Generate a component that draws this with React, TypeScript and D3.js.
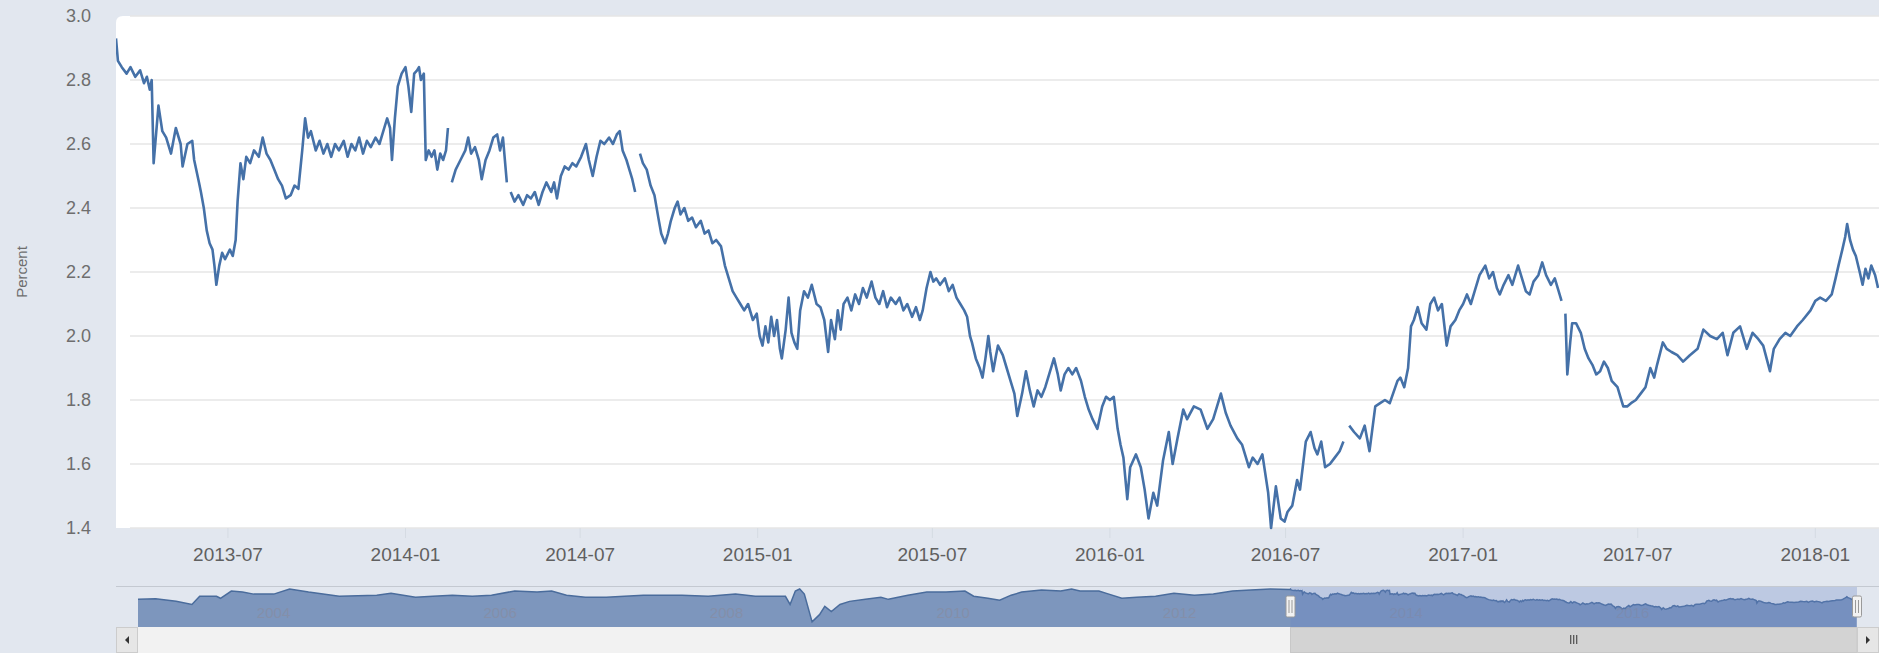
import React from 'react';
import * as d3 from 'd3';

// ---------- DATA ----------
const yTickValues = [1.4, 1.6, 1.8, 2.0, 2.2, 2.4, 2.6, 2.8, 3.0];
const xTickDates = ['2013-07-01', '2014-01-01', '2014-07-01', '2015-01-01', '2015-07-01', '2016-01-01', '2016-07-01', '2017-01-01', '2017-07-01', '2018-01-01'];
const navTickDates = ['2004-01-01', '2006-01-01', '2008-01-01', '2010-01-01', '2012-01-01', '2014-01-01', '2016-01-01'];
const viewRange = ['2013-03-07', '2018-03-08'];
const navRange = ['2003-01-02', '2018-03-08'];

const series2013: [string, number | null][] = [
  ['2013-03-07', 2.93], ['2013-03-09', 2.86], ['2013-03-13', 2.84], ['2013-03-18', 2.82], ['2013-03-22', 2.84],
  ['2013-03-27', 2.81], ['2013-04-01', 2.83], ['2013-04-05', 2.79], ['2013-04-08', 2.81], ['2013-04-11', 2.77],
  ['2013-04-13', 2.80], ['2013-04-15', 2.54], ['2013-04-20', 2.72], ['2013-04-24', 2.64], ['2013-04-28', 2.62],
  ['2013-05-03', 2.57], ['2013-05-08', 2.65], ['2013-05-13', 2.60], ['2013-05-15', 2.53], ['2013-05-20', 2.60],
  ['2013-05-25', 2.61], ['2013-05-27', 2.55], ['2013-06-01', 2.48], ['2013-06-03', 2.45], ['2013-06-06', 2.40],
  ['2013-06-09', 2.33], ['2013-06-12', 2.29], ['2013-06-15', 2.27], ['2013-06-17', 2.22], ['2013-06-19', 2.16],
  ['2013-06-22', 2.22], ['2013-06-25', 2.26], ['2013-06-28', 2.24], ['2013-07-03', 2.27], ['2013-07-06', 2.25],
  ['2013-07-09', 2.30], ['2013-07-11', 2.42], ['2013-07-14', 2.54], ['2013-07-17', 2.49], ['2013-07-20', 2.56],
  ['2013-07-24', 2.54], ['2013-07-28', 2.58], ['2013-08-02', 2.56], ['2013-08-06', 2.62], ['2013-08-10', 2.57],
  ['2013-08-14', 2.55], ['2013-08-18', 2.52], ['2013-08-22', 2.49], ['2013-08-26', 2.47], ['2013-08-30', 2.43],
  ['2013-09-04', 2.44], ['2013-09-08', 2.47], ['2013-09-12', 2.46], ['2013-09-16', 2.58], ['2013-09-19', 2.68],
  ['2013-09-22', 2.62], ['2013-09-25', 2.64], ['2013-09-30', 2.58], ['2013-10-04', 2.61], ['2013-10-08', 2.57],
  ['2013-10-12', 2.60], ['2013-10-16', 2.56], ['2013-10-20', 2.60], ['2013-10-24', 2.58], ['2013-10-29', 2.61],
  ['2013-11-02', 2.56], ['2013-11-06', 2.60], ['2013-11-10', 2.58], ['2013-11-14', 2.62], ['2013-11-18', 2.57],
  ['2013-11-22', 2.61], ['2013-11-26', 2.59], ['2013-12-01', 2.62], ['2013-12-05', 2.60], ['2013-12-09', 2.64],
  ['2013-12-13', 2.68], ['2013-12-16', 2.65], ['2013-12-18', 2.55], ['2013-12-21', 2.68], ['2013-12-24', 2.78],
  ['2013-12-28', 2.82],
];

const series2014: [string, number | null][] = [
  ['2014-01-01', 2.84], ['2014-01-04', 2.78], ['2014-01-07', 2.70], ['2014-01-10', 2.82], ['2014-01-13', 2.83],
  ['2014-01-15', 2.84], ['2014-01-17', 2.80], ['2014-01-20', 2.82], ['2014-01-22', 2.55], ['2014-01-25', 2.58],
  ['2014-01-28', 2.56], ['2014-01-31', 2.58], ['2014-02-03', 2.52], ['2014-02-06', 2.57], ['2014-02-09', 2.55],
  ['2014-02-12', 2.58], ['2014-02-14', 2.65], ['2014-02-16', null], ['2014-02-18', 2.48], ['2014-02-22', 2.52],
  ['2014-02-27', 2.55], ['2014-03-04', 2.58], ['2014-03-07', 2.62], ['2014-03-10', 2.57], ['2014-03-14', 2.59],
  ['2014-03-18', 2.55], ['2014-03-21', 2.49], ['2014-03-25', 2.55], ['2014-03-29', 2.58], ['2014-04-02', 2.62],
  ['2014-04-06', 2.63], ['2014-04-09', 2.58], ['2014-04-12', 2.62], ['2014-04-16', 2.48], ['2014-04-18', null],
  ['2014-04-20', 2.45], ['2014-04-24', 2.42], ['2014-04-28', 2.44], ['2014-05-03', 2.41], ['2014-05-07', 2.44],
  ['2014-05-11', 2.43], ['2014-05-15', 2.45], ['2014-05-19', 2.41], ['2014-05-23', 2.45], ['2014-05-27', 2.48],
  ['2014-06-01', 2.45], ['2014-06-04', 2.48], ['2014-06-07', 2.43], ['2014-06-11', 2.50], ['2014-06-15', 2.53],
  ['2014-06-19', 2.52], ['2014-06-23', 2.54], ['2014-06-27', 2.53], ['2014-07-02', 2.56], ['2014-07-07', 2.60],
  ['2014-07-10', 2.55], ['2014-07-14', 2.50], ['2014-07-18', 2.56], ['2014-07-22', 2.61], ['2014-07-26', 2.60],
  ['2014-07-31', 2.62], ['2014-08-04', 2.60], ['2014-08-08', 2.63], ['2014-08-11', 2.64], ['2014-08-14', 2.58],
  ['2014-08-18', 2.55], ['2014-08-21', 2.52], ['2014-08-24', 2.49], ['2014-08-27', 2.45], ['2014-08-29', null],
  ['2014-09-01', 2.57], ['2014-09-04', 2.54], ['2014-09-08', 2.52], ['2014-09-12', 2.47], ['2014-09-16', 2.44],
  ['2014-09-20', 2.37], ['2014-09-23', 2.32], ['2014-09-27', 2.29], ['2014-09-30', 2.32], ['2014-10-03', 2.36],
  ['2014-10-07', 2.40], ['2014-10-10', 2.42], ['2014-10-13', 2.38], ['2014-10-17', 2.40], ['2014-10-21', 2.36],
  ['2014-10-25', 2.37], ['2014-10-29', 2.34], ['2014-11-03', 2.36], ['2014-11-07', 2.32], ['2014-11-11', 2.33],
  ['2014-11-15', 2.29], ['2014-11-19', 2.30], ['2014-11-24', 2.28], ['2014-11-28', 2.22], ['2014-12-02', 2.18],
  ['2014-12-06', 2.14], ['2014-12-10', 2.12], ['2014-12-14', 2.10], ['2014-12-18', 2.08], ['2014-12-22', 2.10],
  ['2014-12-27', 2.05], ['2014-12-31', 2.07],
];

const series2015: [string, number | null][] = [
  ['2015-01-03', 2.00], ['2015-01-06', 1.97], ['2015-01-09', 2.03], ['2015-01-12', 1.98], ['2015-01-15', 2.06],
  ['2015-01-18', 2.00], ['2015-01-21', 2.05], ['2015-01-24', 1.96], ['2015-01-26', 1.93], ['2015-01-30', 2.02],
  ['2015-02-02', 2.12], ['2015-02-05', 2.01], ['2015-02-08', 1.98], ['2015-02-11', 1.96], ['2015-02-14', 2.08],
  ['2015-02-18', 2.14], ['2015-02-22', 2.12], ['2015-02-26', 2.16], ['2015-03-03', 2.10], ['2015-03-07', 2.09],
  ['2015-03-11', 2.05], ['2015-03-15', 1.95], ['2015-03-18', 2.05], ['2015-03-22', 1.99], ['2015-03-25', 2.08],
  ['2015-03-28', 2.02], ['2015-03-31', 2.10], ['2015-04-04', 2.12], ['2015-04-08', 2.08], ['2015-04-12', 2.13],
  ['2015-04-16', 2.10], ['2015-04-20', 2.15], ['2015-04-24', 2.12], ['2015-04-29', 2.17], ['2015-05-03', 2.12],
  ['2015-05-07', 2.10], ['2015-05-11', 2.14], ['2015-05-15', 2.09], ['2015-05-19', 2.12], ['2015-05-24', 2.10],
  ['2015-05-28', 2.12], ['2015-06-01', 2.08], ['2015-06-05', 2.10], ['2015-06-10', 2.06], ['2015-06-14', 2.09],
  ['2015-06-18', 2.05], ['2015-06-21', 2.08], ['2015-06-25', 2.15], ['2015-06-29', 2.20], ['2015-07-02', 2.17],
  ['2015-07-05', 2.18], ['2015-07-09', 2.16], ['2015-07-14', 2.18], ['2015-07-18', 2.14], ['2015-07-22', 2.16],
  ['2015-07-26', 2.12], ['2015-07-30', 2.10], ['2015-08-03', 2.08], ['2015-08-06', 2.06], ['2015-08-09', 2.00],
  ['2015-08-11', 1.98], ['2015-08-15', 1.93], ['2015-08-19', 1.90], ['2015-08-22', 1.87], ['2015-08-25', 1.93],
  ['2015-08-28', 2.00], ['2015-08-30', 1.95], ['2015-09-02', 1.89], ['2015-09-05', 1.94], ['2015-09-07', 1.97],
  ['2015-09-12', 1.94], ['2015-09-16', 1.90], ['2015-09-20', 1.86], ['2015-09-24', 1.82], ['2015-09-27', 1.75],
  ['2015-10-02', 1.82], ['2015-10-06', 1.89], ['2015-10-10', 1.83], ['2015-10-14', 1.78], ['2015-10-18', 1.83],
  ['2015-10-22', 1.81], ['2015-10-26', 1.84], ['2015-10-30', 1.88], ['2015-11-04', 1.93], ['2015-11-08', 1.88],
  ['2015-11-11', 1.83], ['2015-11-15', 1.88], ['2015-11-19', 1.90], ['2015-11-23', 1.88], ['2015-11-27', 1.90],
  ['2015-12-02', 1.86], ['2015-12-06', 1.81], ['2015-12-10', 1.77], ['2015-12-14', 1.74], ['2015-12-19', 1.71],
  ['2015-12-24', 1.78], ['2015-12-28', 1.81],
];

const series2016: [string, number | null][] = [
  ['2016-01-01', 1.80], ['2016-01-05', 1.81], ['2016-01-09', 1.71], ['2016-01-12', 1.66], ['2016-01-15', 1.62],
  ['2016-01-19', 1.49], ['2016-01-22', 1.59], ['2016-01-28', 1.63], ['2016-02-02', 1.59], ['2016-02-06', 1.52],
  ['2016-02-10', 1.43], ['2016-02-15', 1.51], ['2016-02-19', 1.47], ['2016-02-22', 1.54], ['2016-02-25', 1.61],
  ['2016-03-02', 1.70], ['2016-03-06', 1.60], ['2016-03-11', 1.68], ['2016-03-17', 1.77], ['2016-03-21', 1.74],
  ['2016-03-28', 1.78], ['2016-04-04', 1.77], ['2016-04-11', 1.71], ['2016-04-17', 1.74], ['2016-04-25', 1.82],
  ['2016-04-30', 1.76], ['2016-05-05', 1.72], ['2016-05-12', 1.68], ['2016-05-17', 1.66], ['2016-05-24', 1.59],
  ['2016-05-28', 1.62], ['2016-06-02', 1.60], ['2016-06-07', 1.63], ['2016-06-13', 1.51], ['2016-06-16', 1.40],
  ['2016-06-21', 1.53], ['2016-06-26', 1.43], ['2016-06-30', 1.42], ['2016-07-03', 1.45], ['2016-07-08', 1.47],
  ['2016-07-13', 1.55], ['2016-07-16', 1.52], ['2016-07-22', 1.67], ['2016-07-27', 1.70], ['2016-07-31', 1.65],
  ['2016-08-03', 1.63], ['2016-08-07', 1.67], ['2016-08-11', 1.59], ['2016-08-16', 1.60], ['2016-08-21', 1.62],
  ['2016-08-26', 1.64], ['2016-08-30', 1.67], ['2016-09-02', null], ['2016-09-05', 1.72], ['2016-09-10', 1.70],
  ['2016-09-16', 1.68], ['2016-09-21', 1.72], ['2016-09-26', 1.64], ['2016-10-02', 1.78], ['2016-10-07', 1.79],
  ['2016-10-12', 1.80], ['2016-10-17', 1.79], ['2016-10-25', 1.86], ['2016-10-28', 1.87], ['2016-11-01', 1.84],
  ['2016-11-05', 1.90], ['2016-11-08', 2.03], ['2016-11-11', 2.05], ['2016-11-15', 2.09], ['2016-11-19', 2.04],
  ['2016-11-24', 2.02], ['2016-11-28', 2.10], ['2016-12-02', 2.12], ['2016-12-06', 2.08], ['2016-12-10', 2.10],
  ['2016-12-15', 1.97], ['2016-12-19', 2.03], ['2016-12-24', 2.05], ['2016-12-28', 2.08],
];

const series2017: [string, number | null][] = [
  ['2017-01-01', 2.10], ['2017-01-05', 2.13], ['2017-01-09', 2.10], ['2017-01-13', 2.14], ['2017-01-18', 2.19],
  ['2017-01-24', 2.22], ['2017-01-28', 2.18], ['2017-02-01', 2.20], ['2017-02-05', 2.15], ['2017-02-08', 2.13],
  ['2017-02-12', 2.16], ['2017-02-17', 2.19], ['2017-02-21', 2.16], ['2017-02-27', 2.22], ['2017-03-03', 2.18],
  ['2017-03-07', 2.14], ['2017-03-11', 2.13], ['2017-03-15', 2.17], ['2017-03-20', 2.19], ['2017-03-24', 2.23],
  ['2017-03-28', 2.19], ['2017-04-02', 2.16], ['2017-04-06', 2.18], ['2017-04-10', 2.14], ['2017-04-13', 2.11],
  ['2017-04-15', null], ['2017-04-17', 2.07], ['2017-04-19', 1.88], ['2017-04-22', 1.98], ['2017-04-24', 2.04],
  ['2017-04-28', 2.04], ['2017-05-03', 2.01], ['2017-05-07', 1.96], ['2017-05-11', 1.93], ['2017-05-15', 1.91],
  ['2017-05-19', 1.88], ['2017-05-23', 1.89], ['2017-05-27', 1.92], ['2017-05-31', 1.90], ['2017-06-04', 1.86],
  ['2017-06-10', 1.84], ['2017-06-13', 1.81], ['2017-06-16', 1.78], ['2017-06-20', 1.78], ['2017-06-24', 1.79],
  ['2017-06-29', 1.80], ['2017-07-04', 1.82], ['2017-07-09', 1.84], ['2017-07-14', 1.90], ['2017-07-18', 1.87],
  ['2017-07-21', 1.91], ['2017-07-27', 1.98], ['2017-07-31', 1.96], ['2017-08-05', 1.95], ['2017-08-11', 1.94],
  ['2017-08-17', 1.92], ['2017-08-24', 1.94], ['2017-09-01', 1.96], ['2017-09-07', 2.02], ['2017-09-14', 2.00],
  ['2017-09-21', 1.99], ['2017-09-27', 2.01], ['2017-10-02', 1.94], ['2017-10-08', 2.01], ['2017-10-15', 2.03],
  ['2017-10-22', 1.96], ['2017-10-28', 2.01], ['2017-11-03', 1.99], ['2017-11-08', 1.97], ['2017-11-15', 1.89],
  ['2017-11-19', 1.96], ['2017-11-25', 1.99], ['2017-12-01', 2.01], ['2017-12-06', 2.00], ['2017-12-13', 2.03],
  ['2017-12-19', 2.05], ['2017-12-27', 2.08],
];

const series2018: [string, number | null][] = [
  ['2018-01-01', 2.11], ['2018-01-06', 2.12], ['2018-01-12', 2.11], ['2018-01-18', 2.13], ['2018-01-22', 2.18],
  ['2018-01-25', 2.22], ['2018-01-29', 2.27], ['2018-02-01', 2.31], ['2018-02-03', 2.35], ['2018-02-06', 2.30],
  ['2018-02-09', 2.27], ['2018-02-12', 2.25], ['2018-02-16', 2.20], ['2018-02-19', 2.16], ['2018-02-22', 2.21],
  ['2018-02-25', 2.18], ['2018-02-28', 2.22], ['2018-03-04', 2.19], ['2018-03-07', 2.15],
];

// earlier history, only visible in the navigator
const navHistory: [string, number][] = [
  ['2003-01-02', 2.16], ['2003-02-28', 2.20], ['2003-05-05', 2.01], ['2003-06-25', 1.78], ['2003-07-20', 2.39],
  ['2003-09-12', 2.39], ['2003-09-25', 2.24], ['2003-10-30', 2.78], ['2003-12-05', 2.70], ['2004-01-10', 2.55],
  ['2004-03-15', 2.55], ['2004-05-05', 2.93], ['2004-07-05', 2.70], ['2004-10-12', 2.39], ['2005-02-10', 2.47],
  ['2005-03-28', 2.62], ['2005-06-15', 2.32], ['2005-08-10', 2.39], ['2005-10-12', 2.47], ['2005-12-15', 2.39],
  ['2006-02-15', 2.47], ['2006-05-01', 2.78], ['2006-07-12', 2.70], ['2006-08-28', 2.78], ['2006-10-15', 2.47],
  ['2006-12-15', 2.32], ['2007-02-20', 2.32], ['2007-04-20', 2.39], ['2007-06-20', 2.47], ['2007-08-22', 2.47],
  ['2007-10-22', 2.47], ['2008-01-15', 2.39], ['2008-04-12', 2.55], ['2008-06-15', 2.39], ['2008-09-20', 2.39],
  ['2008-10-05', 1.78], ['2008-10-22', 2.78], ['2008-11-05', 2.93], ['2008-11-20', 2.55], ['2008-12-15', 0.48],
  ['2009-01-08', 1.02], ['2009-01-25', 1.63], ['2009-02-15', 1.25], ['2009-03-15', 1.78], ['2009-04-15', 2.01],
  ['2009-06-05', 2.16], ['2009-07-25', 2.32], ['2009-08-18', 2.16], ['2009-10-20', 2.47], ['2009-12-20', 2.70],
  ['2010-02-20', 2.70], ['2010-04-22', 2.78], ['2010-05-20', 2.39], ['2010-07-05', 2.24], ['2010-08-12', 2.09],
  ['2010-09-18', 2.47], ['2010-10-22', 2.70], ['2010-12-25', 2.85], ['2011-02-25', 2.78], ['2011-04-01', 2.93],
  ['2011-04-28', 2.78], ['2011-06-28', 2.78], ['2011-07-30', 2.55], ['2011-09-10', 2.24], ['2011-10-28', 2.32],
  ['2011-12-28', 2.39], ['2012-02-25', 2.62], ['2012-05-01', 2.47], ['2012-07-01', 2.55], ['2012-09-01', 2.78],
  ['2012-10-30', 2.85], ['2013-01-01', 2.93], ['2013-03-05', 2.90],
];

const yAxisTitle = 'Percent';

// ---------- COMPONENT ----------
type Pt = { t: Date; v: number | null };
const parse = d3.utcParse('%Y-%m-%d');
const toPts = (arr: [string, number | null][]): Pt[] => arr.map(([d, v]) => ({ t: parse(d) as Date, v }));

export default function App() {
  const W = 1879, H = 653;
  const plot = { left: 116, top: 16, right: 1879, bottom: 528 };
  const nav = { left: 138, right: 1857, top: 587, bottom: 627 };
  const bg = '#e2e7ef';
  const lineColor = '#4571a8';
  const font = '"Liberation Sans", Arial, sans-serif';

  const main = toPts([...series2013, ...series2014, ...series2015, ...series2016, ...series2017, ...series2018]);
  // the navigator series is drawn without gaps
  const navPts = [...toPts(navHistory), ...main.filter((d) => d.v != null)];

  const x = d3.scaleUtc().domain(viewRange.map((d) => parse(d) as Date)).range([plot.left, plot.right]);
  const y = d3.scaleLinear().domain([1.4, 3.0]).range([plot.bottom, plot.top]);
  const nx = d3.scaleUtc().domain(navRange.map((d) => parse(d) as Date)).range([nav.left, nav.right]);
  const ny = d3.scaleLinear().domain([0.1, 3.08]).range([nav.bottom, nav.top]);

  const line = d3.line<Pt>().defined((d) => d.v != null).x((d) => x(d.t)).y((d) => y(d.v as number));
  const navLine = d3.line<Pt>().x((d) => nx(d.t)).y((d) => ny(d.v as number));
  const navArea = d3.area<Pt>().x((d) => nx(d.t)).y0(nav.bottom).y1((d) => ny(d.v as number));

  const fmt = d3.utcFormat('%Y-%m');
  const selL = nx(parse(viewRange[0]) as Date);
  const selR = nx(parse(viewRange[1]) as Date);
  const sbTop = 627, sbH = 26;

  const handle = (hx: number) => (
    <g>
      <rect x={hx - 4.5} y={596} width={9} height={21} rx={1.5} fill="#f2f2f2" stroke="#9a9a9a" strokeWidth={1} />
      <line x1={hx - 1.5} x2={hx - 1.5} y1={600} y2={613} stroke="#999" strokeWidth={1} />
      <line x1={hx + 1.5} x2={hx + 1.5} y1={600} y2={613} stroke="#999" strokeWidth={1} />
    </g>
  );

  return (
    <div style={{ position: 'absolute', left: 0, top: 0 }}>
      <svg width={W} height={H} style={{ display: 'block', fontFamily: font }}>
        <defs>
          <clipPath id="plotClip">
            <rect x={plot.left} y={plot.top - 2} width={plot.right - plot.left} height={plot.bottom - plot.top + 4} />
          </clipPath>
          <clipPath id="navClip">
            <rect x={nav.left} y={nav.top - 4} width={nav.right - nav.left} height={nav.bottom - nav.top + 4} />
          </clipPath>
        </defs>
        <rect x={0} y={0} width={W} height={H} fill={bg} />
        {/* plot background */}
        <path
          d={`M${plot.left},${plot.bottom} V${plot.top + 7} Q${plot.left},${plot.top} ${plot.left + 7},${plot.top} H${plot.right} V${plot.bottom} Z`}
          fill="#ffffff"
        />
        {/* grid */}
        {yTickValues.map((v) => (
          <line key={v} x1={plot.left + 14} x2={plot.right} y1={y(v)} y2={y(v)} stroke="#e6e6e6" strokeWidth={1.5} />
        ))}
        {/* y labels */}
        {yTickValues.map((v) => (
          <text key={'l' + v} x={91} y={y(v) + 6} textAnchor="end" fontSize={18} fill="#6e6e6e">
            {v.toFixed(1)}
          </text>
        ))}
        <text transform={`translate(27,${(plot.top + plot.bottom) / 2}) rotate(-90)`} textAnchor="middle" fontSize={15} fill="#6e6e6e">
          {yAxisTitle}
        </text>
        {/* x ticks and labels */}
        {xTickDates.map((d) => {
          const xx = x(parse(d) as Date);
          return (
            <g key={d}>
              <line x1={xx} x2={xx} y1={plot.bottom} y2={plot.bottom + 10} stroke="#d5dbe3" strokeWidth={1} />
              <text x={xx} y={561} textAnchor="middle" fontSize={19} fill="#606060">
                {fmt(parse(d) as Date)}
              </text>
            </g>
          );
        })}
        {/* main line */}
        <path d={line(main) || ''} fill="none" stroke={lineColor} strokeWidth={2.6} strokeLinejoin="round" clipPath="url(#plotClip)" />

        {/* navigator */}
        <line x1={plot.left} x2={plot.right} y1={nav.top - 0.5} y2={nav.top - 0.5} stroke="#c4c9d1" strokeWidth={1} />
        <g clipPath="url(#navClip)">
          <path d={navArea(navPts) || ''} fill="#7d96bd" />
          <path d={navLine(navPts) || ''} fill="none" stroke="#4a6c9c" strokeWidth={1.5} />
        </g>
        {navTickDates.map((d) => {
          const xx = nx(parse(d) as Date);
          return (
            <text key={'n' + d} x={xx + 6} y={618} fontSize={15} fill="#8a8a9a" opacity={0.55}>
              {d.slice(0, 4)}
            </text>
          );
        })}
        <rect x={selL} y={nav.top} width={selR - selL} height={nav.bottom - nav.top} fill="rgba(102,133,194,0.3)" />
        {handle(selL)}
        {handle(selR)}

        {/* scrollbar */}
        <rect x={plot.left} y={sbTop} width={plot.right - plot.left} height={sbH} fill="#f2f2f2" />
        <rect x={selL} y={sbTop + 0.5} width={selR - selL} height={sbH - 1} fill="#d3d3d3" stroke="#c8c8c8" />
        {[-3, 0, 3].map((o) => (
          <line key={o} x1={(selL + selR) / 2 + o} x2={(selL + selR) / 2 + o} y1={sbTop + 8} y2={sbTop + 17} stroke="#333" strokeWidth={1} />
        ))}
        <rect x={plot.left + 0.5} y={sbTop + 0.5} width={nav.left - plot.left - 1} height={sbH - 1} fill="#e6e6e6" stroke="#cccccc" />
        <path d={`M${plot.left + 13},${sbTop + 9} L${plot.left + 13},${sbTop + 17} L${plot.left + 9},${sbTop + 13} Z`} fill="#333" />
        <rect x={nav.right + 0.5} y={sbTop + 0.5} width={plot.right - nav.right - 1} height={sbH - 1} fill="#e6e6e6" stroke="#cccccc" />
        <path d={`M${nav.right + 9},${sbTop + 9} L${nav.right + 9},${sbTop + 17} L${nav.right + 13},${sbTop + 13} Z`} fill="#333" />
      </svg>
    </div>
  );
}
